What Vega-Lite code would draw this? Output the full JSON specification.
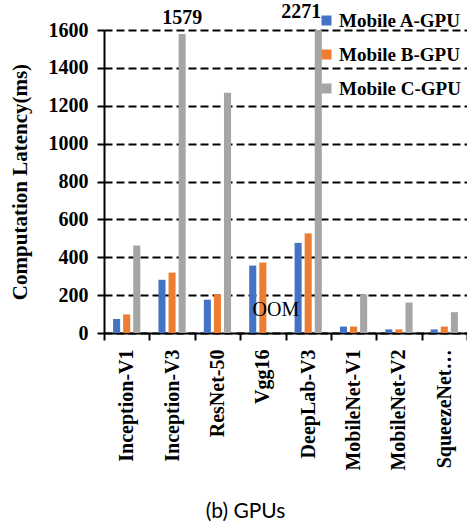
{
  "$schema": "https://vega.github.io/schema/vega-lite/v6.json",
  "width": 363,
  "height": 303,
  "autosize": {"type": "none"},
  "padding": {"left": 104, "top": 30, "right": 0, "bottom": 192},
  "background": "white",
  "config": {
    "view": {"stroke": null},
    "font": "Liberation Serif",
    "axis": {"grid": false}
  },
  "title": {
    "text": "(b) GPUs",
    "orient": "bottom",
    "anchor": "middle",
    "font": "Lato",
    "fontSize": 21,
    "fontWeight": "normal",
    "color": "black",
    "offset": 31,
    "dx": -40
  },
  "datasets": {
    "latency": [
      {"model": "Inception-V1", "gpu": "Mobile A-GPU", "ms": 74},
      {"model": "Inception-V1", "gpu": "Mobile B-GPU", "ms": 98},
      {"model": "Inception-V1", "gpu": "Mobile C-GPU", "ms": 462},
      {"model": "Inception-V3", "gpu": "Mobile A-GPU", "ms": 281},
      {"model": "Inception-V3", "gpu": "Mobile B-GPU", "ms": 319},
      {"model": "Inception-V3", "gpu": "Mobile C-GPU", "ms": 1579},
      {"model": "ResNet-50", "gpu": "Mobile A-GPU", "ms": 176},
      {"model": "ResNet-50", "gpu": "Mobile B-GPU", "ms": 204},
      {"model": "ResNet-50", "gpu": "Mobile C-GPU", "ms": 1268},
      {"model": "Vgg16", "gpu": "Mobile A-GPU", "ms": 356},
      {"model": "Vgg16", "gpu": "Mobile B-GPU", "ms": 372},
      {"model": "Vgg16", "gpu": "Mobile C-GPU", "ms": 0, "note": "OOM"},
      {"model": "DeepLab-V3", "gpu": "Mobile A-GPU", "ms": 476},
      {"model": "DeepLab-V3", "gpu": "Mobile B-GPU", "ms": 526},
      {"model": "DeepLab-V3", "gpu": "Mobile C-GPU", "ms": 2271},
      {"model": "MobileNet-V1", "gpu": "Mobile A-GPU", "ms": 34},
      {"model": "MobileNet-V1", "gpu": "Mobile B-GPU", "ms": 34},
      {"model": "MobileNet-V1", "gpu": "Mobile C-GPU", "ms": 204},
      {"model": "MobileNet-V2", "gpu": "Mobile A-GPU", "ms": 19},
      {"model": "MobileNet-V2", "gpu": "Mobile B-GPU", "ms": 19},
      {"model": "MobileNet-V2", "gpu": "Mobile C-GPU", "ms": 161},
      {"model": "SqueezeNet…", "gpu": "Mobile A-GPU", "ms": 19},
      {"model": "SqueezeNet…", "gpu": "Mobile B-GPU", "ms": 34},
      {"model": "SqueezeNet…", "gpu": "Mobile C-GPU", "ms": 110}
    ]
  },
  "data": {"name": "latency"},
  "encoding": {
    "x": {
      "field": "model",
      "type": "nominal",
      "sort": ["Inception-V1", "Inception-V3", "ResNet-50", "Vgg16", "DeepLab-V3", "MobileNet-V1", "MobileNet-V2", "SqueezeNet…"],
      "scale": {"paddingInner": 0, "paddingOuter": 0},
      "axis": {
        "title": null,
        "labelAngle": -90,
        "labelFont": "Liberation Serif",
        "labelFontWeight": "bold",
        "labelFontSize": 20,
        "labelColor": "black",
        "labelPadding": 9,
        "labelLimit": 200,
        "tickBand": "extent",
        "tickSize": 7,
        "tickWidth": 2,
        "tickColor": "black",
        "domainColor": "black",
        "domainWidth": 2
      }
    },
    "xOffset": {
      "field": "gpu",
      "type": "nominal",
      "sort": ["Mobile A-GPU", "Mobile B-GPU", "Mobile C-GPU"],
      "scale": {"paddingInner": 0.3, "paddingOuter": 0.9}
    },
    "y": {
      "field": "ms",
      "type": "quantitative",
      "scale": {"domain": [0, 1600], "nice": false, "clamp": true},
      "axis": {
        "title": "Computation Latency(ms)",
        "values": [0, 200, 400, 600, 800, 1000, 1200, 1400, 1600],
        "format": "d",
        "grid": true,
        "gridDash": [8, 4],
        "gridColor": "black",
        "gridWidth": 2,
        "gridOpacity": 1,
        "tickSize": 7,
        "tickWidth": 2,
        "tickColor": "black",
        "domainColor": "black",
        "domainWidth": 2,
        "labelFont": "Liberation Serif",
        "labelFontSize": 20,
        "labelFontWeight": "bold",
        "labelColor": "black",
        "labelPadding": 9,
        "titleFont": "Liberation Serif",
        "titleFontSize": 21,
        "titleFontWeight": "bold",
        "titleColor": "black",
        "titleAngle": 270,
        "titleAlign": "center",
        "titleBaseline": "middle",
        "titleX": -84,
        "titleY": 151.5
      }
    }
  },
  "layer": [
    {
      "mark": {"type": "bar"},
      "encoding": {
        "color": {
          "field": "gpu",
          "type": "nominal",
          "scale": {
            "domain": ["Mobile A-GPU", "Mobile B-GPU", "Mobile C-GPU"],
            "range": ["#4472C4", "#ED7D31", "#A5A5A5"]
          },
          "legend": {
            "title": null,
            "orient": "none",
            "legendX": 213,
            "legendY": -19,
            "padding": 0,
            "symbolType": "square",
            "symbolSize": 100,
            "symbolStrokeWidth": 0,
            "labelFont": "Liberation Serif",
            "labelFontSize": 19,
            "labelFontWeight": "bold",
            "labelColor": "black",
            "labelOffset": 3,
            "rowPadding": 14
          }
        }
      }
    },
    {
      "transform": [{"filter": "datum.ms > 1500 && datum.ms <= 1600"}],
      "mark": {"type": "text", "baseline": "bottom", "align": "center", "dy": -6, "fontSize": 20, "fontWeight": "bold", "font": "Liberation Serif", "color": "black"},
      "encoding": {"text": {"field": "ms", "type": "quantitative"}}
    },
    {
      "transform": [{"filter": "datum.ms > 1600"}],
      "mark": {"type": "text", "baseline": "bottom", "align": "right", "dx": 3, "dy": -8, "fontSize": 20, "fontWeight": "bold", "font": "Liberation Serif", "color": "black"},
      "encoding": {"text": {"field": "ms", "type": "quantitative"}}
    },
    {
      "transform": [{"filter": "datum.note"}],
      "mark": {"type": "text", "baseline": "middle", "align": "center", "dx": 3, "dy": -23, "fontSize": 20, "font": "Liberation Serif", "color": "black"},
      "encoding": {"text": {"field": "note", "type": "nominal"}}
    }
  ]
}
